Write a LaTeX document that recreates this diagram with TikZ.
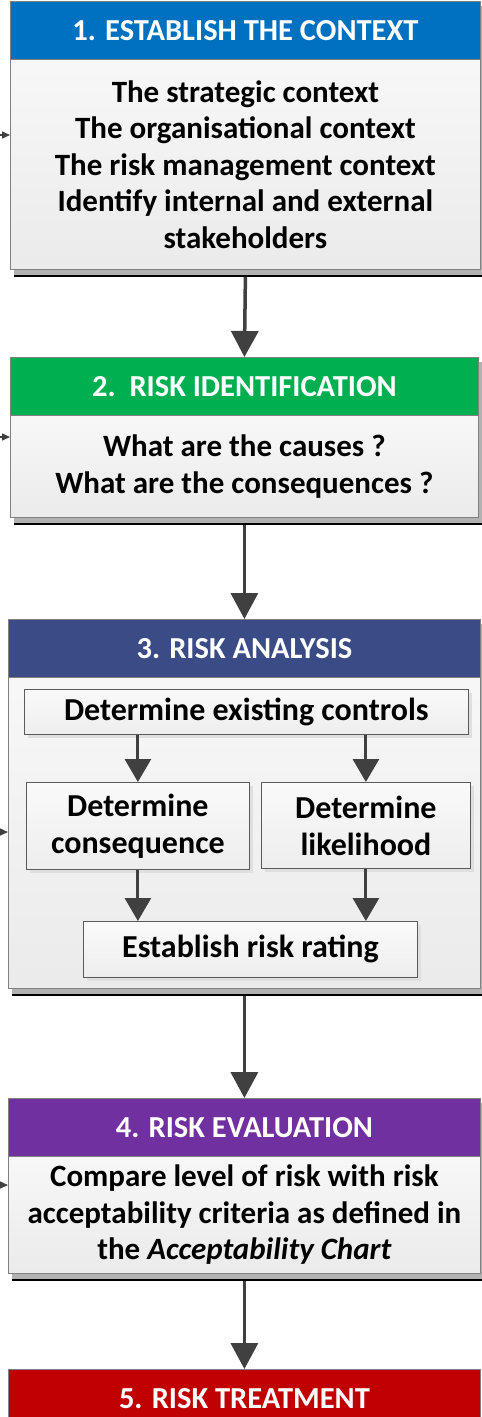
\documentclass[tikz,border=0pt]{standalone}
\usepackage{fontspec}
\setmainfont{Carlito}
\usetikzlibrary{arrows.meta,calc}
\definecolor{cblue}{HTML}{0070C0}
\definecolor{cgreen}{HTML}{00B050}
\definecolor{cnavy}{HTML}{3A4B86}
\definecolor{cpurple}{HTML}{7030A0}
\definecolor{cred}{HTML}{C00000}
\definecolor{arr}{HTML}{404040}
\definecolor{edge}{HTML}{808080}
\tikzset{
  hdr/.style={draw=edge, line width=0.8pt, anchor=north west, inner sep=0pt,
    text=white, font=\fontsize{30.5}{34}\selectfont\bfseries},
  bodybox/.style={draw=edge, line width=0.8pt, anchor=north west, inner sep=0pt,
    top color=white!97!black, bottom color=white!92!black, align=center,
    font=\fontsize{31}{36.5}\selectfont\bfseries},
  inbox/.style={draw=edge!70!black, line width=0.8pt, anchor=north west, inner sep=0pt,
    top color=white!98!black, bottom color=white!93!black, align=center,
    font=\fontsize{32}{37}\selectfont\bfseries},
  bigarrow/.style={draw=arr, line width=3.5pt, -{Triangle[width=27pt,length=26pt]}},
  inarrow/.style={draw=arr, line width=3pt, -{Triangle[width=26pt,length=23pt]}},
  sidearrow/.style={draw=arr, line width=1.5pt, -{Triangle[width=7pt,length=8pt]}},
  shd/.style={fill=gray!60},
  lshd/.style={fill=gray!25},
}
\newcommand\boxshade[2]{%
  \fill[shd] ($(#1.north east)+(0,5)$) rectangle ($(#2.south east)+(3,7)$);
  \fill[shd] ($(#2.south west)+(4,0)$) rectangle ($(#2.south east)+(3,5)$);
  \draw[black,line width=1.8pt] ($(#2.south west)+(4,6.5)$) -- ($(#2.south east)+(3,6.5)$);
}
\newcommand\inshade[1]{%
  \fill[lshd] ($(#1.north east)+(0,4)$) rectangle ($(#1.south east)+(3,3)$);
  \fill[lshd] ($(#1.south west)+(4,0)$) rectangle ($(#1.south east)+(3,3)$);
}
\begin{document}
\begin{tikzpicture}[x=1pt,y=-1pt]
\useasboundingbox[fill=white] (0,0) rectangle (482,1417);

% Box 1
\node[hdr, fill=cblue, minimum width=470pt, minimum height=58pt] (h1) at (10,1) {1. ESTABLISH THE CONTEXT};
\node[bodybox, minimum width=470pt, minimum height=210pt] (b1) at (10,59)
  {The strategic context\\The organisational context\\The risk management context\\Identify internal and external\\stakeholders};
\boxshade{h1}{b1}

% Box 2
\node[hdr, fill=cgreen, minimum width=468pt, minimum height=58pt] (h2) at (10,357) {2.\ \ RISK IDENTIFICATION};
\node[bodybox, minimum width=468pt, minimum height=102pt] (b2) at (10,415)
  {What are the causes ?\\What are the consequences ?};
\boxshade{h2}{b2}

% Box 3
\node[hdr, fill=cnavy, minimum width=472pt, minimum height=58pt] (h3) at (8,619) {3. RISK ANALYSIS};
\node[bodybox, minimum width=472pt, minimum height=311pt] (b3) at (8,677) {};
\boxshade{h3}{b3}
\node[inbox, minimum width=444pt, minimum height=45pt] (ec) at (24,689) {Determine existing controls};
\node[inbox, minimum width=223pt, minimum height=87pt] (cq) at (26,782) {Determine\\consequence};
\node[inbox, minimum width=209pt, minimum height=86pt] (lk) at (261,782) {Determine\\likelihood};
\node[inbox, minimum width=334pt, minimum height=56pt] (rr) at (83,921) {Establish risk rating};
\inshade{ec}\inshade{cq}\inshade{lk}\inshade{rr}
\draw[inarrow] (cq.north |- ec.south) -- (cq.north);
\draw[inarrow] (lk.north |- ec.south) -- (lk.north);
\draw[inarrow] (cq.south) -- (cq.south |- rr.north);
\draw[inarrow] (lk.south) -- (lk.south |- rr.north);

% Box 4
\node[hdr, fill=cpurple, minimum width=472pt, minimum height=58pt] (h4) at (8,1098) {4. RISK EVALUATION};
\node[bodybox, minimum width=472pt, minimum height=117pt] (b4) at (8,1156)
  {Compare level of risk with risk\\acceptability criteria as defined in\\the \textit{Acceptability Chart}};
\boxshade{h4}{b4}

% Box 5
\node[hdr, fill=cred, minimum width=472pt, minimum height=58pt] (h5) at (8,1369) {5. RISK TREATMENT};

% main connectors
\draw[bigarrow] ($(b1.south)+(0,7)$) -- (h2.north);
\draw[bigarrow] ($(b2.south)+(0,7)$) -- (h3.north);
\draw[bigarrow] ($(b3.south)+(0,7)$) -- (h4.north);
\draw[bigarrow] ($(b4.south)+(0,7)$) -- (h5.north);

% side connectors
\coordinate (s1) at (0,135);
\coordinate (s2) at (0,437);
\coordinate (s3) at (0,832);
\coordinate (s4) at (0,1185);
\draw[sidearrow] (s1) -- (s1 -| b1.west);
\draw[sidearrow] (s2) -- (s2 -| b2.west);
\draw[sidearrow] (s3) -- (s3 -| b3.west);
\draw[sidearrow] (s4) -- (s4 -| b4.west);
\end{tikzpicture}
\end{document}
